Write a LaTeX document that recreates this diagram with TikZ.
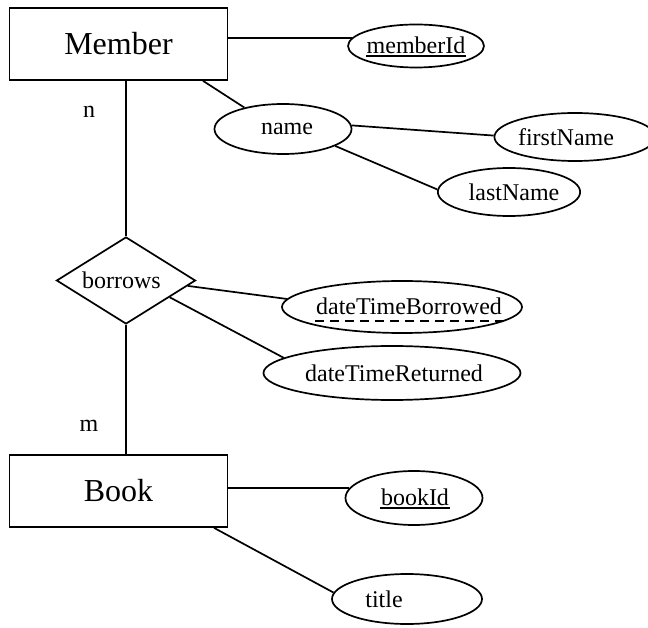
\documentclass[tikz,border=0pt]{standalone}
\usepackage{fontspec}
\setmainfont{Liberation Serif}
\usetikzlibrary{shapes.geometric}
\begin{document}
\begin{tikzpicture}[x=1pt,y=-1pt,line width=1.7pt,
  ent/.style={draw,rectangle,minimum width=218pt,minimum height=72pt,inner sep=0pt,font=\fontsize{32}{36}\selectfont},
  attr/.style={draw,ellipse,inner sep=0pt,font=\fontsize{24}{28}\selectfont},
  txt/.style={inner sep=0pt,font=\fontsize{24}{28}\selectfont},
  rel/.style={draw,diamond,aspect=1.6,inner sep=0pt,minimum width=139pt,minimum height=87pt,font=\fontsize{24}{28}\selectfont},
  uline/.style={line width=1.6pt},
  dline/.style={line width=1.6pt,dash pattern=on 9pt off 6pt}]
\useasboundingbox (0,0) rectangle (648,628);
% entities
\node[ent] (member) at (118.5,44) {Member};
\node[ent] (book) at (118.5,491) {Book};
% relationship
\node[rel] (borrows) at (126,280.5) {borrows\hspace*{9pt}};
% attributes
\node[attr,minimum width=136pt,minimum height=43pt] (mid) at (416,46) {};
\node[txt] (midt) at (416,45) {memberId};
\node[attr,minimum width=137pt,minimum height=50pt] (name) at (283,129) {\hspace*{8pt}name};
\node[attr,minimum width=144pt,minimum height=48pt] (first) at (575,137) {firstName\hspace*{18pt}};
\node[attr,minimum width=128pt,minimum height=48pt] (last) at (509,192) {\hspace*{10pt}lastName};
\node[attr,minimum width=240pt,minimum height=52pt] (dtb) at (402,307) {};
\node[txt] (dtbt) at (409,306) {dateTimeBorrowed};
\node[attr,minimum width=245pt,minimum height=54pt] (dtr) at (392,373) {\hspace*{4pt}dateTimeReturned};
\node[attr,minimum width=137pt,minimum height=54pt] (bid) at (414,498) {};
\node[txt] (bidt) at (415,497) {bookId};
\node[attr,minimum width=150pt,minimum height=50pt] (title) at (407,599) {title\hspace*{46pt}};
% cardinalities
\node[txt] (n) at (89,112) {n};
\node[txt] (m) at (89,426) {m};
% underlines
\draw[uline] ([yshift=-3pt]midt.base west) -- ([yshift=-3pt]midt.base east);
\draw[uline] ([yshift=-3pt]bidt.base west) -- ([yshift=-3pt]bidt.base east);
\draw[dline] ([yshift=-7pt]dtbt.base west) -- ([yshift=-7pt]dtbt.base east);
% connectors
\draw (mid.173 -| member.east) -- (mid.173);
\draw ([xshift=84.5pt]member.south) -- (name.151);
\draw (name.3) -- (first.179);
\draw (name.-18) -- (last.178);
\draw (borrows.north |- member.south) -- (borrows.north);
\draw (borrows.south) -- (borrows.south |- book.north);
\draw (borrows.-5) -- (dtb.176);
\draw (borrows.-21) -- (dtr.172);
\draw (bid.171 -| book.east) -- (bid.171);
\draw ([xshift=95.5pt]book.south) -- (title.175);
\end{tikzpicture}
\end{document}
